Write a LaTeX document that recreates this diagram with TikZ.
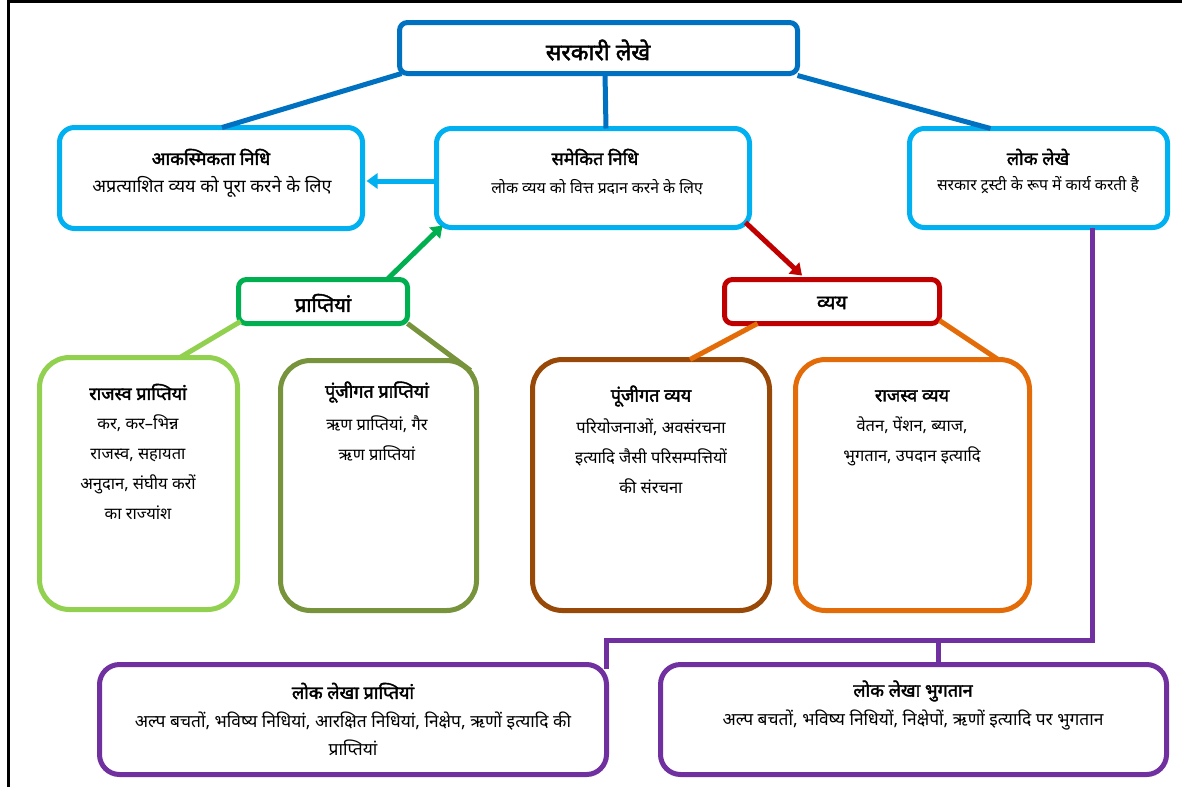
\documentclass[tikz,border=0pt]{standalone}
\usepackage{fontspec}
\setmainfont[Script=Devanagari]{Noto Sans}
\newfontfamily\devbold[Script=Devanagari,FakeBold=2.2]{Noto Sans}
\usetikzlibrary{arrows.meta,calc}
\definecolor{cdblue}{HTML}{0070C0}
\definecolor{clblue}{HTML}{00B0F0}
\definecolor{cgreen}{HTML}{00B050}
\definecolor{clgreen}{HTML}{92D050}
\definecolor{colive}{HTML}{77933C}
\definecolor{cred}{HTML}{C00000}
\definecolor{cbrown}{HTML}{984807}
\definecolor{corange}{HTML}{E36C09}
\definecolor{cpurple}{HTML}{7030A0}
\tikzset{
  bx/.style={draw=#1, line width=5pt, fill=white, inner sep=0pt, outer sep=0pt},
  txt/.style={inner sep=0pt, align=center, text=black},
  fbig/.style={txt, font=\devbold\fontsize{23}{26}\selectfont},
  fhead/.style={txt, font=\devbold\fontsize{20}{24}\selectfont},
  ftitle/.style={txt, font=\devbold\fontsize{18}{21}\selectfont},
  fbody/.style={txt, font=\fontsize{16.5}{30}\selectfont},
  fwide/.style={txt, font=\fontsize{17.4}{28}\selectfont},
  fsmall/.style={txt, font=\fontsize{15.7}{19}\selectfont},
  conn/.style={draw=#1, line width=5pt},
  arr/.style={draw=#1, line width=5pt, -{Triangle[length=11pt,width=15pt]}},
}
\begin{document}
\begin{tikzpicture}[x=1pt,y=-1pt]
\useasboundingbox (0,0) rectangle (1182,787);
\fill[white] (0,0) rectangle (1182,787);
% frame
\draw[line width=3pt] (1182,1.5) -- (8.5,1.5) -- (8.5,787);

% boxes
\node[bx=cdblue, rounded corners=8pt, minimum width=398pt, minimum height=51pt] (top) at (598.5,48) {};
\node[bx=clblue, rounded corners=15pt, minimum width=303pt, minimum height=101pt] (akas) at (211,178) {};
\node[bx=clblue, rounded corners=15pt, minimum width=313pt, minimum height=99pt] (samk) at (593,178) {};
\node[bx=clblue, rounded corners=15pt, minimum width=258pt, minimum height=99pt] (lokl) at (1038.5,178) {};
\node[bx=cgreen, rounded corners=8pt, minimum width=169pt, minimum height=44pt] (prap) at (323,301.5) {};
\node[bx=cred, rounded corners=8pt, minimum width=215pt, minimum height=44pt] (vyay) at (832,301.5) {};
\node[bx=clgreen, rounded corners=30pt, minimum width=198pt, minimum height=252pt] (rp) at (138.5,483.5) {};
\node[bx=colive, rounded corners=30pt, minimum width=196pt, minimum height=250pt] (pp) at (378.5,485.5) {};
\node[bx=cbrown, rounded corners=30pt, minimum width=237pt, minimum height=251pt] (pv) at (651,485) {};
\node[bx=corange, rounded corners=30pt, minimum width=234pt, minimum height=251pt] (rv) at (912.5,485) {};
\node[bx=cpurple, rounded corners=20pt, minimum width=507pt, minimum height=110pt] (llp) at (353,719.5) {};
\node[bx=cpurple, rounded corners=20pt, minimum width=506pt, minimum height=110pt] (llb) at (913.5,719.5) {};

% connectors from top
\draw[conn=cdblue] ([xshift=2pt]top.south west) -- ([xshift=11pt]akas.north);
\draw[conn=cdblue] ([xshift=6.5pt]top.south) -- ([xshift=13pt]samk.north);
\draw[conn=cdblue] ([yshift=-2pt]top.south east) -- ([xshift=-48pt]lokl.north);
% arrows
\draw[arr=clblue] ($(samk.west)+(0,3)$) -- ($(akas.east)+(4,3)$);
\draw[arr=cgreen] ([xshift=64pt]prap.north) -- ($(samk.south west)+(6,-2)$);
\draw[arr=cred] ($(samk.south east)+(-4,-5)$) -- ($(vyay.north)+(-30,-4)$);
% receipts branches
\draw[conn=clgreen] ($(prap.south west)+(2,-2)$) -- ([xshift=41.5pt]rp.north);
\draw[conn=colive] (prap.south east) -- ($(pp.north east)+(-6,10)$);
% expenditure branches
\draw[conn=corange] ([xshift=33pt]vyay.south west) -- ([xshift=39pt]pv.north);
\draw[conn=corange] ($(vyay.south east)+(0,-3)$) -- ([xshift=85.5pt]rv.north);
% public account
\coordinate (jl) at (606,640);
\coordinate (jr) at (938,640);
\draw[conn=cpurple] ([xshift=53.5pt]lokl.south) |- (jl) -- ($(llp.north -| jl)+(0,4)$);
\draw[conn=cpurple] (jr) -- (llb.north -| jr);

% texts
\node[fbig] (ttop) at (598,50) {सरकारी लेखे};
\node[ftitle] (takas1) at (211,157) {आकस्मिकता निधि};
\node[txt, font=\fontsize{18}{22}\selectfont] (takas2) at (212,187) {अप्रत्याशित व्यय को पूरा करने के लिए};
\node[ftitle] (tsamk1) at (595,157) {समेकित निधि};
\node[fsmall] (tsamk2) at (597,187) {लोक व्यय को वित्त प्रदान करने के लिए};
\node[ftitle] (tlokl1) at (1038,157) {लोक लेखे};
\node[fsmall] (tlokl2) at (1038,185) {सरकार ट्रस्टी के रूप में कार्य करती है};
\node[fhead] (tprap) at (323,303) {प्राप्तियां};
\node[fhead] (tvyay) at (832,303) {व्यय};
\node[ftitle] (trp1) at (138,392) {राजस्व प्राप्तियां};
\node[fbody] (trp2) at (138,467) {कर, कर–भिन्न\\राजस्व, सहायता\\अनुदान, संघीय करों\\का राज्यांश};
\node[ftitle] (tpp1) at (377,392) {पूंजीगत प्राप्तियां};
\node[fbody] (tpp2) at (377,438) {ऋण प्राप्तियां, गैर\\ऋण प्राप्तियां};
\node[ftitle] (tpv1) at (651,396) {पूंजीगत व्यय};
\node[fbody] (tpv2) at (651,456) {परियोजनाओं, अवसंरचना\\इत्यादि जैसी परिसम्पत्तियों\\की संरचना};
\node[ftitle] (trv1) at (912,396) {राजस्व व्यय};
\node[fbody] (trv2) at (912,441) {वेतन, पेंशन, ब्याज,\\भुगतान, उपदान इत्यादि};
\node[ftitle] (tllp1) at (353,691) {लोक लेखा प्राप्तियां};
\node[fwide] (tllp2) at (353,734) {अल्प बचतों, भविष्य निधियां, आरक्षित निधियां, निक्षेप, ऋणों इत्यादि की\\प्राप्तियां};
\node[ftitle] (tllb1) at (913,691) {लोक लेखा भुगतान};
\node[fwide] (tllb2) at (913,720) {अल्प बचतों, भविष्य निधियों, निक्षेपों, ऋणों इत्यादि पर भुगतान};
\end{tikzpicture}
\end{document}
